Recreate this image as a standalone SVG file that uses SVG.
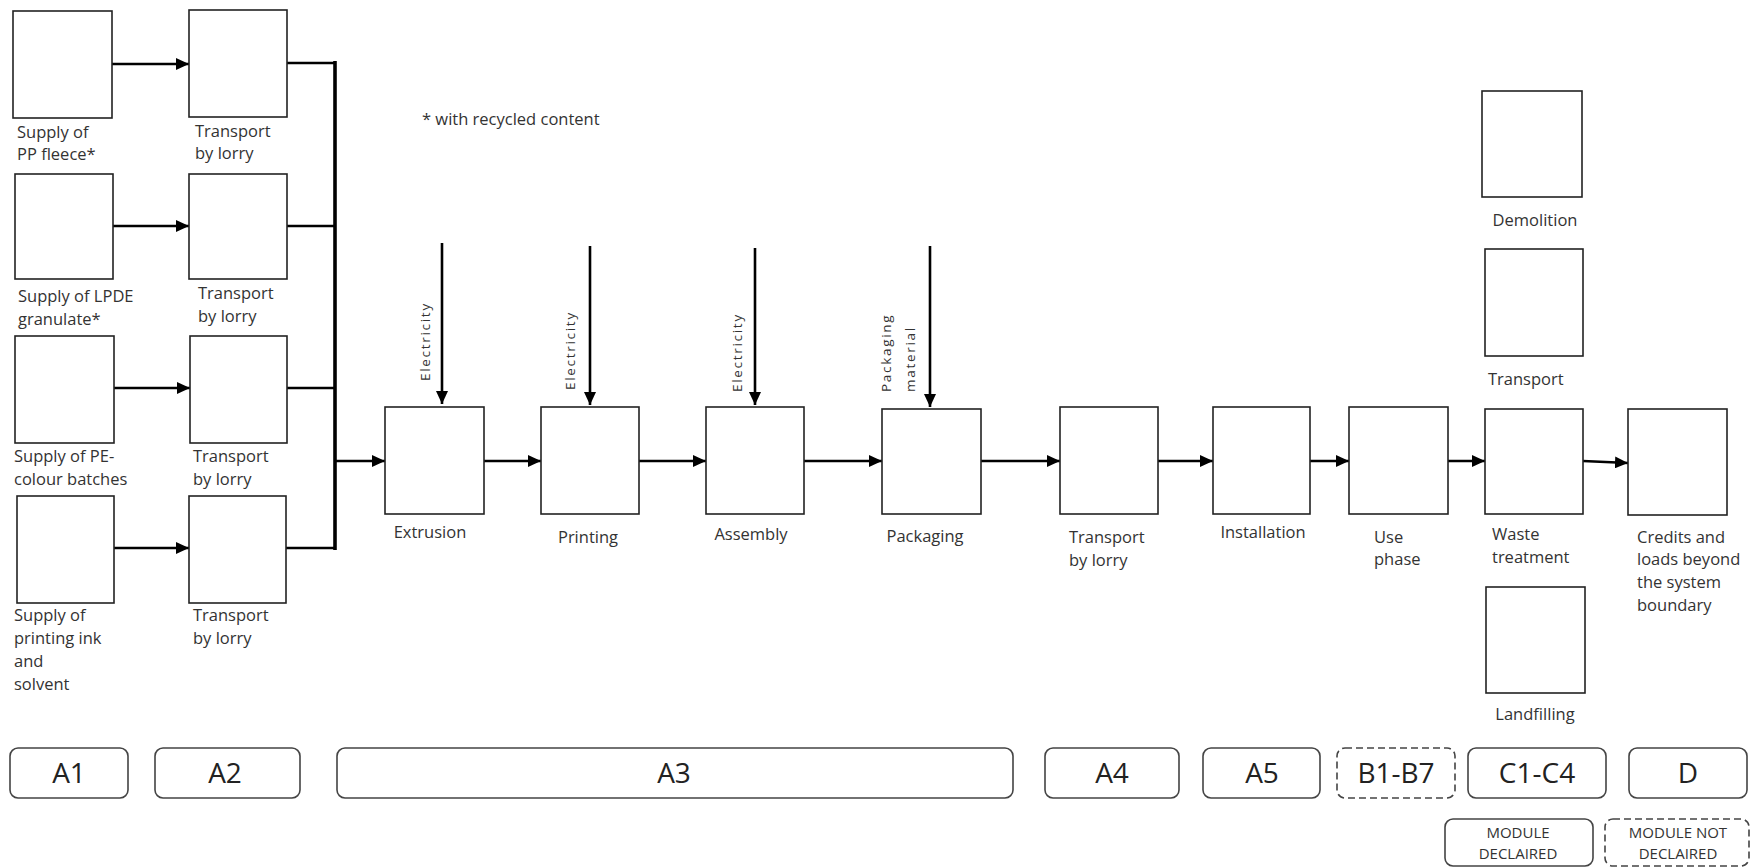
<svg xmlns="http://www.w3.org/2000/svg" width="1751" height="867" viewBox="0 0 1751 867">
<style>
.box{fill:#fff;stroke:#222;stroke-width:1.6}
.stage{fill:#fff;stroke:#444;stroke-width:1.6}
.dash{stroke-dasharray:7 4}
.t{font-family:"Open Sans","Liberation Sans",sans-serif;font-size:16.5px;fill:#333}
.tc{text-anchor:middle}
.v{font-family:"Open Sans","Liberation Sans",sans-serif;font-size:13.5px;fill:#333;letter-spacing:1.7px}
.big{font-family:"Open Sans","Liberation Sans",sans-serif;font-size:28px;fill:#222;text-anchor:middle}
.sm{font-family:"Open Sans","Liberation Sans",sans-serif;font-size:15px;fill:#333;text-anchor:middle}
.c{fill:none;stroke:#000;stroke-width:2.6}
.a{fill:none;stroke:#000;stroke-width:2.6;marker-end:url(#ah)}
</style>
<defs>
<marker id="ah" markerUnits="userSpaceOnUse" markerWidth="13" markerHeight="12" refX="13" refY="6" orient="auto">
<path d="M0,0 L13,6 L0,12 Z" fill="#000"/>
</marker>
</defs>
<rect width="1751" height="867" fill="#fff"/>

<g id="connectors">
<path class="a" d="M112,64 L189,64"/>
<path class="a" d="M113,226 L189,226"/>
<path class="a" d="M114,388 L190,388"/>
<path class="a" d="M114,548 L189,548"/>
<path class="c" d="M287,63 L335,63"/>
<path class="c" d="M287,226 L335,226"/>
<path class="c" d="M287,388 L335,388"/>
<path class="c" d="M286,548 L335,548"/>
<path class="c" style="stroke-width:3.6" d="M335,61 L335,550"/>
<path class="a" d="M335,461 L385,461"/>
<path class="a" d="M484,461 L541,461"/>
<path class="a" d="M639,461 L706,461"/>
<path class="a" d="M804,461 L882,461"/>
<path class="a" d="M981,461 L1060,461"/>
<path class="a" d="M1158,461 L1213,461"/>
<path class="a" d="M1310,461 L1349,461"/>
<path class="a" d="M1448,461 L1485,461"/>
<path class="a" d="M1583,461 L1628,463"/>
<path class="a" d="M442,243 L442,404"/>
<path class="a" d="M590,246 L590,405"/>
<path class="a" d="M755,248 L755,405"/>
<path class="a" d="M930,246 L930,407"/>
</g>

<g id="supply-pp"><rect class="box" x="13" y="11" width="99" height="107"/>
<text class="t" x="17" y="138">Supply of</text><text class="t" x="17" y="160">PP fleece*</text></g>
<g id="transport-1"><rect class="box" x="189" y="10" width="98" height="107"/>
<text class="t" x="195" y="137">Transport</text><text class="t" x="195" y="159">by lorry</text></g>

<g id="supply-ldpe"><rect class="box" x="15" y="174" width="98" height="105"/>
<text class="t" x="18" y="302">Supply of LPDE</text><text class="t" x="18" y="325">granulate*</text></g>
<g id="transport-2"><rect class="box" x="189" y="174" width="98" height="105"/>
<text class="t" x="198" y="299">Transport</text><text class="t" x="198" y="322">by lorry</text></g>

<g id="supply-pe"><rect class="box" x="15" y="336" width="99" height="107"/>
<text class="t" x="14" y="462">Supply of PE-</text><text class="t" x="14" y="485">colour batches</text></g>
<g id="transport-3"><rect class="box" x="190" y="336" width="97" height="107"/>
<text class="t" x="193" y="462">Transport</text><text class="t" x="193" y="485">by lorry</text></g>

<g id="supply-ink"><rect class="box" x="17" y="496" width="97" height="107"/>
<text class="t" x="14" y="621">Supply of</text><text class="t" x="14" y="644">printing ink</text><text class="t" x="14" y="667">and</text><text class="t" x="14" y="690">solvent</text></g>
<g id="transport-4"><rect class="box" x="189" y="496" width="97" height="107"/>
<text class="t" x="193" y="621">Transport</text><text class="t" x="193" y="644">by lorry</text></g>

<g id="note"><text class="t" x="422" y="125">* with recycled content</text></g>

<g id="extrusion"><rect class="box" x="385" y="407" width="99" height="107"/>
<text class="t tc" x="430" y="538">Extrusion</text>
<text class="v" transform="translate(430,381) rotate(-90)">Electricity</text></g>
<g id="printing"><rect class="box" x="541" y="407" width="98" height="107"/>
<text class="t tc" x="588" y="543">Printing</text>
<text class="v" transform="translate(575,390) rotate(-90)">Electricity</text></g>
<g id="assembly"><rect class="box" x="706" y="407" width="98" height="107"/>
<text class="t tc" x="751" y="540">Assembly</text>
<text class="v" transform="translate(742,392) rotate(-90)">Electricity</text></g>
<g id="packaging"><rect class="box" x="882" y="409" width="99" height="105"/>
<text class="t tc" x="925" y="542">Packaging</text>
<text class="v" transform="translate(891,392) rotate(-90)">Packaging</text>
<text class="v" transform="translate(915,392) rotate(-90)">material</text></g>

<g id="transport-a4"><rect class="box" x="1060" y="407" width="98" height="107"/>
<text class="t" x="1069" y="543">Transport</text><text class="t" x="1069" y="566">by lorry</text></g>
<g id="installation"><rect class="box" x="1213" y="407" width="97" height="107"/>
<text class="t tc" x="1263" y="538">Installation</text></g>
<g id="use-phase"><rect class="box" x="1349" y="407" width="99" height="107"/>
<text class="t" x="1374" y="543">Use</text><text class="t" x="1374" y="565">phase</text></g>

<g id="demolition"><rect class="box" x="1482" y="91" width="100" height="106"/>
<text class="t tc" x="1535" y="226">Demolition</text></g>
<g id="transport-c"><rect class="box" x="1485" y="249" width="98" height="107"/>
<text class="t" x="1488" y="385">Transport</text></g>
<g id="waste-treatment"><rect class="box" x="1485" y="409" width="98" height="105"/>
<text class="t" x="1492" y="540">Waste</text><text class="t" x="1492" y="563">treatment</text></g>
<g id="landfilling"><rect class="box" x="1486" y="587" width="99" height="106"/>
<text class="t tc" x="1535" y="720">Landfilling</text></g>
<g id="credits"><rect class="box" x="1628" y="409" width="99" height="106"/>
<text class="t" x="1637" y="543">Credits and</text><text class="t" x="1637" y="565">loads beyond</text><text class="t" x="1637" y="588">the system</text><text class="t" x="1637" y="611">boundary</text></g>

<g id="stage-a1"><rect class="stage" x="10" y="748" width="118" height="50" rx="8"/><text class="big" x="69" y="783">A1</text></g>
<g id="stage-a2"><rect class="stage" x="155" y="748" width="145" height="50" rx="8"/><text class="big" x="225" y="783">A2</text></g>
<g id="stage-a3"><rect class="stage" x="337" y="748" width="676" height="50" rx="8"/><text class="big" x="674" y="783">A3</text></g>
<g id="stage-a4"><rect class="stage" x="1045" y="748" width="134" height="50" rx="8"/><text class="big" x="1112" y="783">A4</text></g>
<g id="stage-a5"><rect class="stage" x="1203" y="748" width="117" height="50" rx="8"/><text class="big" x="1262" y="783">A5</text></g>
<g id="stage-b"><rect class="stage dash" x="1337" y="748" width="118" height="50" rx="8"/><text class="big" x="1396" y="783">B1-B7</text></g>
<g id="stage-c"><rect class="stage" x="1468" y="748" width="138" height="50" rx="8"/><text class="big" x="1537" y="783">C1-C4</text></g>
<g id="stage-d"><rect class="stage" x="1629" y="748" width="118" height="50" rx="8"/><text class="big" x="1688" y="783">D</text></g>

<g id="legend-declared"><rect class="stage" x="1445" y="819" width="148" height="47" rx="8"/>
<text class="sm" x="1518" y="838">MODULE</text><text class="sm" x="1518" y="859">DECLAIRED</text></g>
<g id="legend-not-declared"><rect class="stage dash" x="1605" y="819" width="144" height="47" rx="8"/>
<text class="sm" x="1678" y="838">MODULE NOT</text><text class="sm" x="1678" y="859">DECLAIRED</text></g>
</svg>
